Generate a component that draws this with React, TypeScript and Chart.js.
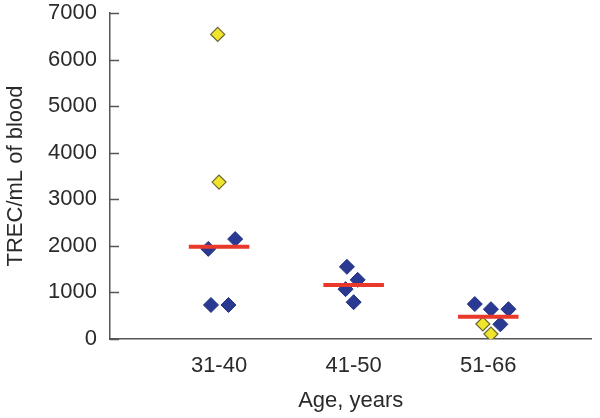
import React, { useEffect, useRef } from "react";
import { Chart, registerables } from "chart.js";

Chart.register(...registerables);

// Age groups (x categories)
const categories = ["31-40", "41-50", "51-66"];
const yTicks = [0, 1000, 2000, 3000, 4000, 5000, 6000, 7000];

// Blue diamonds: group index, horizontal jitter (in category units), TREC/mL value
const blueGroup = [0, 0, 0, 0, 1, 1, 1, 1, 2, 2, 2, 2];
const blueJitter = [-0.08, 0.12, -0.06, 0.07, -0.05, 0.03, -0.06, 0.0, -0.1, 0.02, 0.15, 0.09];
const blueValues = [1935, 2145, 730, 730, 1550, 1270, 1070, 790, 750, 640, 640, 315];

// Yellow diamonds
const yellowGroup = [0, 0, 2, 2];
const yellowJitter = [-0.01, 0.0, -0.04, 0.02];
const yellowValues = [6540, 3370, 322, 107];

// Median bars (red)
const medians = [1980, 1160, 480];
const medianHalfWidth = 0.225;

const FONT = { family: "'Liberation Sans', Arial, Helvetica, sans-serif", size: 22 };
const TEXT = "#2a2a2a";
const AXIS = "#555555";

const inwardTicks = {
  id: "inwardTicks",
  afterDraw(chart: any) {
    const y = chart.scales.y;
    const ctx = chart.ctx;
    const left = chart.chartArea.left;
    ctx.save();
    ctx.strokeStyle = AXIS;
    ctx.lineWidth = 1.5;
    yTicks.forEach((v) => {
      const py = Math.round(y.getPixelForValue(v)) + 0.5;
      ctx.beginPath();
      ctx.moveTo(left, py);
      ctx.lineTo(left + 9, py);
      ctx.stroke();
    });
    ctx.restore();
  },
};

export default function App() {
  const ref = useRef<HTMLCanvasElement>(null);

  useEffect(() => {
    if (!ref.current) return;
    const blueData = blueValues.map((v, i) => ({ x: blueGroup[i] + 1 + blueJitter[i], y: v }));
    const yellowData = yellowValues.map((v, i) => ({ x: yellowGroup[i] + 1 + yellowJitter[i], y: v }));
    const medianSets = medians.map((m, i) => ({
      type: "line" as const,
      data: [
        { x: i + 1 - medianHalfWidth, y: m },
        { x: i + 1 + medianHalfWidth, y: m },
      ],
      borderColor: "#e8392b",
      borderWidth: 4,
      pointRadius: 0,
      showLine: true,
      order: 0,
    }));

    const chart = new Chart(ref.current, {
      type: "scatter",
      data: {
        datasets: [
          ...medianSets,
          {
            data: yellowData,
            pointStyle: "rectRot",
            pointRadius: 7,
            backgroundColor: "#f0e42c",
            borderColor: "#6b6630",
            borderWidth: 1.2,
            order: 1,
          },
          {
            data: blueData,
            pointStyle: "rectRot",
            pointRadius: 7.5,
            backgroundColor: "#2a3a92",
            borderColor: "#22307f",
            borderWidth: 1,
            order: 2,
          },
        ] as any,
      },
      options: {
        animation: false,
        responsive: false,
        layout: { padding: { top: 13, left: 0, right: 0, bottom: 0 } },
        plugins: { legend: { display: false }, tooltip: { enabled: false } },
        scales: {
          x: {
            type: "linear",
            min: 0.19,
            max: 3.767,
            afterFit: (s: any) => {
              s.height = 79;
              s.paddingLeft = 0;
              s.paddingRight = 0;
            },
            afterBuildTicks: (s: any) => {
              s.ticks = categories.map((_, i) => ({ value: i + 1 }));
            },
            grid: { display: false, drawTicks: false },
            border: { display: true, color: AXIS, width: 1.5 },
            ticks: {
              autoSkip: false,
              maxRotation: 0,
              padding: 14,
              color: TEXT,
              font: FONT,
              callback: (v: any) => categories[Math.round(Number(v)) - 1] ?? "",
            },
            title: {
              display: true,
              text: "Age, years",
              color: TEXT,
              font: FONT,
              padding: { top: 8, bottom: 4 },
            },
          },
          y: {
            type: "linear",
            min: 0,
            max: 7000,
            afterFit: (s: any) => {
              s.width = 110;
              s.paddingTop = 0;
              s.paddingBottom = 0;
            },
            afterBuildTicks: (s: any) => {
              s.ticks = yTicks.map((v) => ({ value: v }));
            },
            grid: { display: false, drawTicks: false },
            border: { display: true, color: AXIS, width: 1.5 },
            ticks: {
              padding: 13,
              color: TEXT,
              font: FONT,
              callback: (v: any) => String(v),
            },
            title: {
              display: true,
              text: "TREC/mL of blood",
              color: TEXT,
              font: FONT,
              padding: { top: 3, bottom: 4 },
            },
          },
        },
      },
      plugins: [inwardTicks],
    });
    return () => chart.destroy();
  }, []);

  return (
    <div style={{ position: "absolute", left: 0, top: 0, width: 600, height: 418, background: "#fff" }}>
      <canvas ref={ref} width={600} height={418} style={{ display: "block" }} />
    </div>
  );
}
